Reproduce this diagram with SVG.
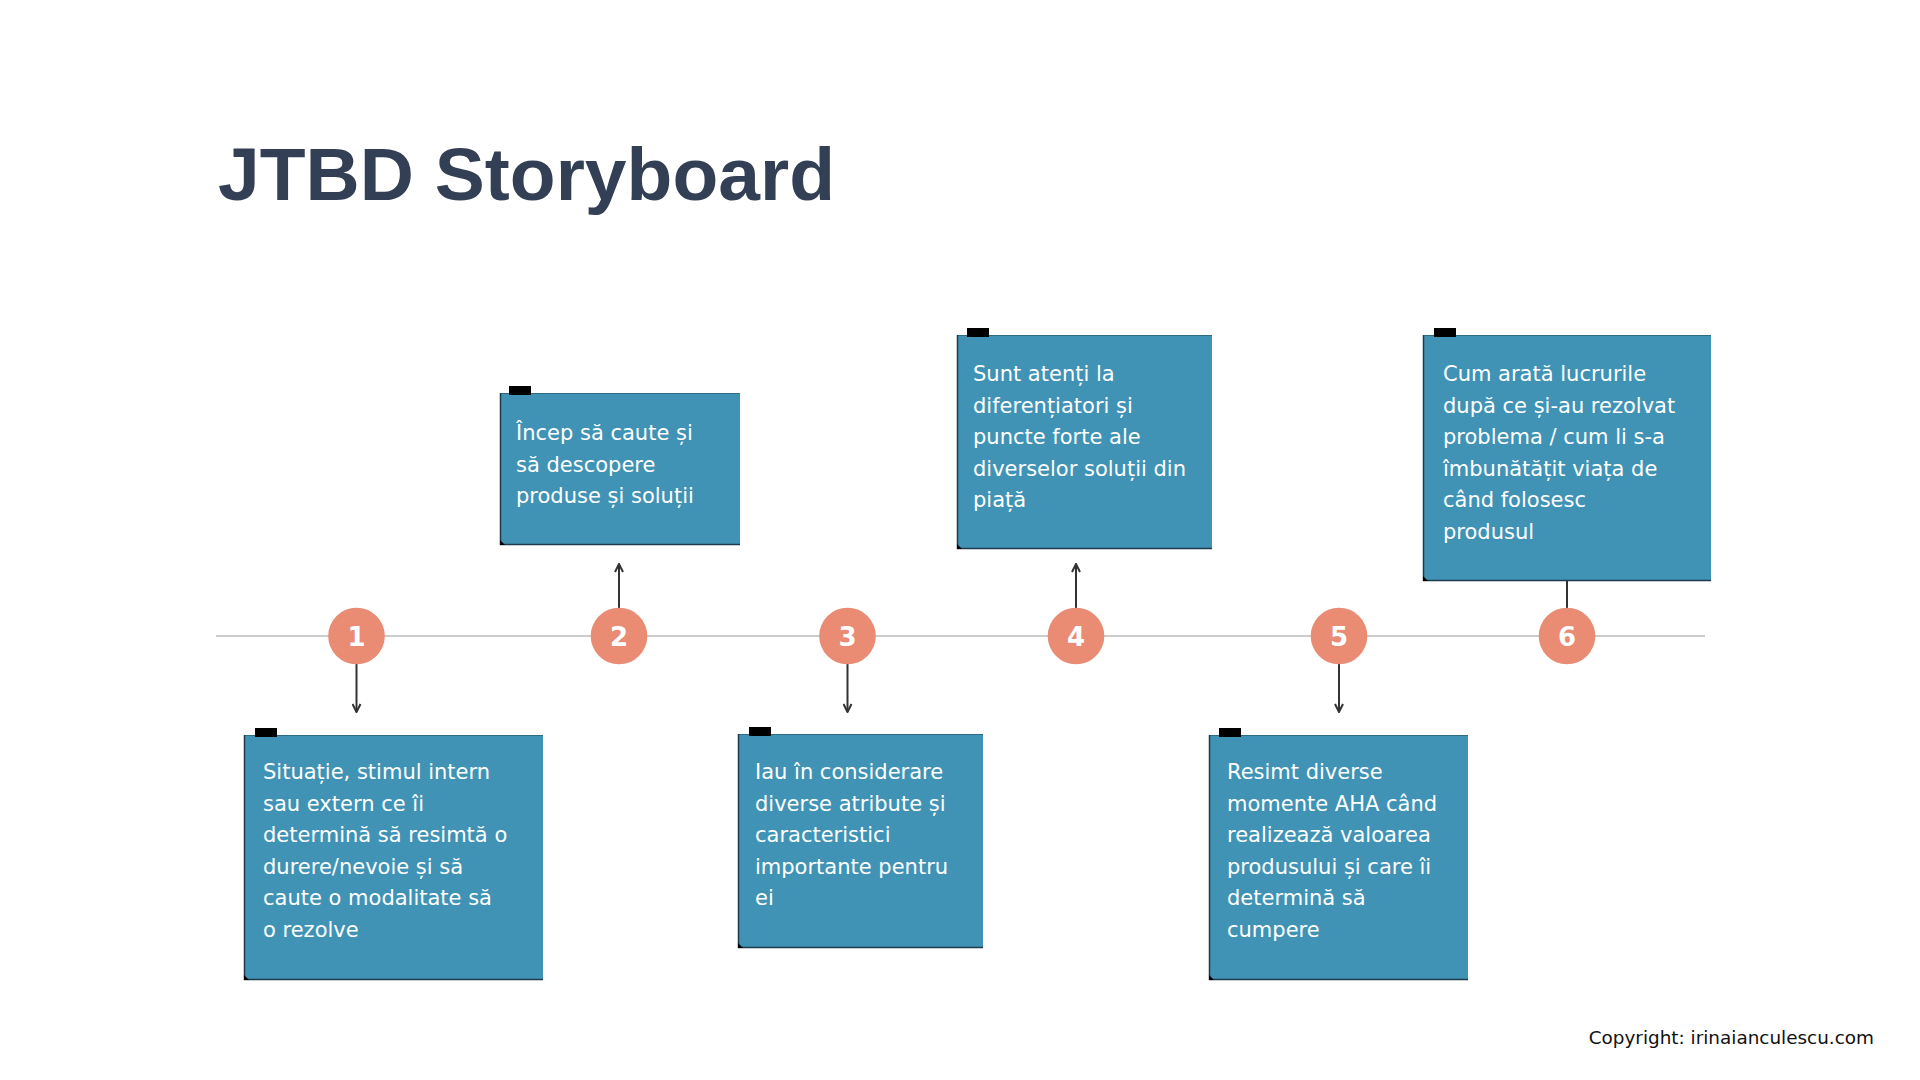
<svg xmlns="http://www.w3.org/2000/svg" width="1920" height="1080" viewBox="0 0 1920 1080">
  <style>
    .title { font-family: "Liberation Sans", Arial, sans-serif; font-weight: 700; font-size: 75px; fill: #333f55; }
    .note { fill: #4093b5; }
    .edge { fill: none; stroke: #1d3b4c; stroke-width: 1.5; }
    .topedge { fill: none; stroke: #1d3b4c; stroke-width: 1; stroke-opacity: 0.45; }
    .tape { fill: #000000; }
    .txt { font-family: "DejaVu Sans", "Noto Sans", sans-serif; font-size: 21px; fill: #ffffff; }
    .num { font-family: "DejaVu Sans", sans-serif; font-weight: 700; font-size: 26px; fill: #ffffff; text-anchor: middle; }
    .dot { fill: #ea8b73; }
    .conn { stroke: #333333; stroke-width: 2; fill: none; }
    .copy { font-family: "DejaVu Sans", "Noto Sans", sans-serif; font-size: 18.4px; fill: #111111; text-anchor: end; }
  </style>
  <defs>
    <marker id="arr" viewBox="0 0 10 10" refX="9" refY="5" markerWidth="5" markerHeight="5" orient="auto" markerUnits="strokeWidth">
      <path d="M1,1 L9,5 L1,9" fill="none" stroke="#333333" stroke-width="2"/>
    </marker>
  </defs>
  <rect width="1920" height="1080" fill="#ffffff"/>

  <text class="title" x="218" y="200" textLength="617" lengthAdjust="spacingAndGlyphs">JTBD Storyboard</text>

  <line x1="216" y1="636" x2="1705" y2="636" stroke="#cccccc" stroke-width="2"/>

  <g id="connectors">
    <line class="conn" x1="356.5" y1="664" x2="356.5" y2="712" marker-end="url(#arr)"/>
    <line class="conn" x1="619" y1="608" x2="619" y2="564" marker-end="url(#arr)"/>
    <line class="conn" x1="847.5" y1="664" x2="847.5" y2="712" marker-end="url(#arr)"/>
    <line class="conn" x1="1076" y1="608" x2="1076" y2="564" marker-end="url(#arr)"/>
    <line class="conn" x1="1339" y1="664" x2="1339" y2="712" marker-end="url(#arr)"/>
    <line class="conn" x1="1567" y1="608" x2="1567" y2="581"/>
  </g>

  <g id="step1">
    <circle class="dot" cx="356.5" cy="636" r="28.3"/>
    <text class="num" x="356.5" y="645.5">1</text>
  </g>
  <g id="step2">
    <circle class="dot" cx="619" cy="636" r="28.3"/>
    <text class="num" x="619" y="645.5">2</text>
  </g>
  <g id="step3">
    <circle class="dot" cx="847.5" cy="636" r="28.3"/>
    <text class="num" x="847.5" y="645.5">3</text>
  </g>
  <g id="step4">
    <circle class="dot" cx="1076" cy="636" r="28.3"/>
    <text class="num" x="1076" y="645.5">4</text>
  </g>
  <g id="step5">
    <circle class="dot" cx="1339" cy="636" r="28.3"/>
    <text class="num" x="1339" y="645.5">5</text>
  </g>
  <g id="step6">
    <circle class="dot" cx="1567" cy="636" r="28.3"/>
    <text class="num" x="1567" y="645.5">6</text>
  </g>

  <g id="note1">
    <rect class="note" x="244" y="735" width="299" height="245"/>
    <path class="topedge" d="M244,735.5 L543,735.5"/>
    <path class="edge" d="M244.5,735 L244.5,979.5 L543,979.5"/>
    <path d="M244,975 L249,980 L244,980 Z" fill="#000"/>
    <rect class="tape" x="255" y="728" width="22" height="9"/>
    <text class="txt">
      <tspan x="263" y="779">Situație, stimul intern</tspan>
      <tspan x="263" y="810.6">sau extern ce îi</tspan>
      <tspan x="263" y="842.2">determină să resimtă o</tspan>
      <tspan x="263" y="873.8">durere/nevoie și să</tspan>
      <tspan x="263" y="905.4">caute o modalitate să</tspan>
      <tspan x="263" y="937">o rezolve</tspan>
    </text>
  </g>

  <g id="note2">
    <rect class="note" x="500" y="393" width="240" height="152"/>
    <path class="topedge" d="M500,393.5 L740,393.5"/>
    <path class="edge" d="M500.5,393 L500.5,544.5 L740,544.5"/>
    <path d="M500,540 L505,545 L500,545 Z" fill="#000"/>
    <rect class="tape" x="509" y="386" width="22" height="9"/>
    <text class="txt">
      <tspan x="516" y="440">Încep să caute și</tspan>
      <tspan x="516" y="471.6">să descopere</tspan>
      <tspan x="516" y="503.2">produse și soluții</tspan>
    </text>
  </g>

  <g id="note3">
    <rect class="note" x="738" y="734" width="245" height="214"/>
    <path class="topedge" d="M738,734.5 L983,734.5"/>
    <path class="edge" d="M738.5,734 L738.5,947.5 L983,947.5"/>
    <path d="M738,943 L743,948 L738,948 Z" fill="#000"/>
    <rect class="tape" x="749" y="727" width="22" height="9"/>
    <text class="txt">
      <tspan x="755" y="779">Iau în considerare</tspan>
      <tspan x="755" y="810.6">diverse atribute și</tspan>
      <tspan x="755" y="842.2">caracteristici</tspan>
      <tspan x="755" y="873.8">importante pentru</tspan>
      <tspan x="755" y="905.4">ei</tspan>
    </text>
  </g>

  <g id="note4">
    <rect class="note" x="957" y="335" width="255" height="214"/>
    <path class="topedge" d="M957,335.5 L1212,335.5"/>
    <path class="edge" d="M957.5,335 L957.5,548.5 L1212,548.5"/>
    <path d="M957,544 L962,549 L957,549 Z" fill="#000"/>
    <rect class="tape" x="967" y="328" width="22" height="9"/>
    <text class="txt">
      <tspan x="973" y="381">Sunt atenți la</tspan>
      <tspan x="973" y="412.6">diferențiatori și</tspan>
      <tspan x="973" y="444.2">puncte forte ale</tspan>
      <tspan x="973" y="475.8">diverselor soluții din</tspan>
      <tspan x="973" y="507.4">piață</tspan>
    </text>
  </g>

  <g id="note5">
    <rect class="note" x="1209" y="735" width="259" height="245"/>
    <path class="topedge" d="M1209,735.5 L1468,735.5"/>
    <path class="edge" d="M1209.5,735 L1209.5,979.5 L1468,979.5"/>
    <path d="M1209,975 L1214,980 L1209,980 Z" fill="#000"/>
    <rect class="tape" x="1219" y="728" width="22" height="9"/>
    <text class="txt">
      <tspan x="1227" y="779">Resimt diverse</tspan>
      <tspan x="1227" y="810.6">momente AHA când</tspan>
      <tspan x="1227" y="842.2">realizează valoarea</tspan>
      <tspan x="1227" y="873.8">produsului și care îi</tspan>
      <tspan x="1227" y="905.4">determină să</tspan>
      <tspan x="1227" y="937">cumpere</tspan>
    </text>
  </g>

  <g id="note6">
    <rect class="note" x="1423" y="335" width="288" height="246"/>
    <path class="topedge" d="M1423,335.5 L1711,335.5"/>
    <path class="edge" d="M1423.5,335 L1423.5,580.5 L1711,580.5"/>
    <path d="M1423,576 L1428,581 L1423,581 Z" fill="#000"/>
    <rect class="tape" x="1434" y="328" width="22" height="9"/>
    <text class="txt">
      <tspan x="1443" y="381">Cum arată lucrurile</tspan>
      <tspan x="1443" y="412.6">după ce și-au rezolvat</tspan>
      <tspan x="1443" y="444.2">problema / cum li s-a</tspan>
      <tspan x="1443" y="475.8">îmbunătățit viața de</tspan>
      <tspan x="1443" y="507.4">când folosesc</tspan>
      <tspan x="1443" y="539">produsul</tspan>
    </text>
  </g>

  <text class="copy" x="1874" y="1044">Copyright: irinaianculescu.com</text>
</svg>
